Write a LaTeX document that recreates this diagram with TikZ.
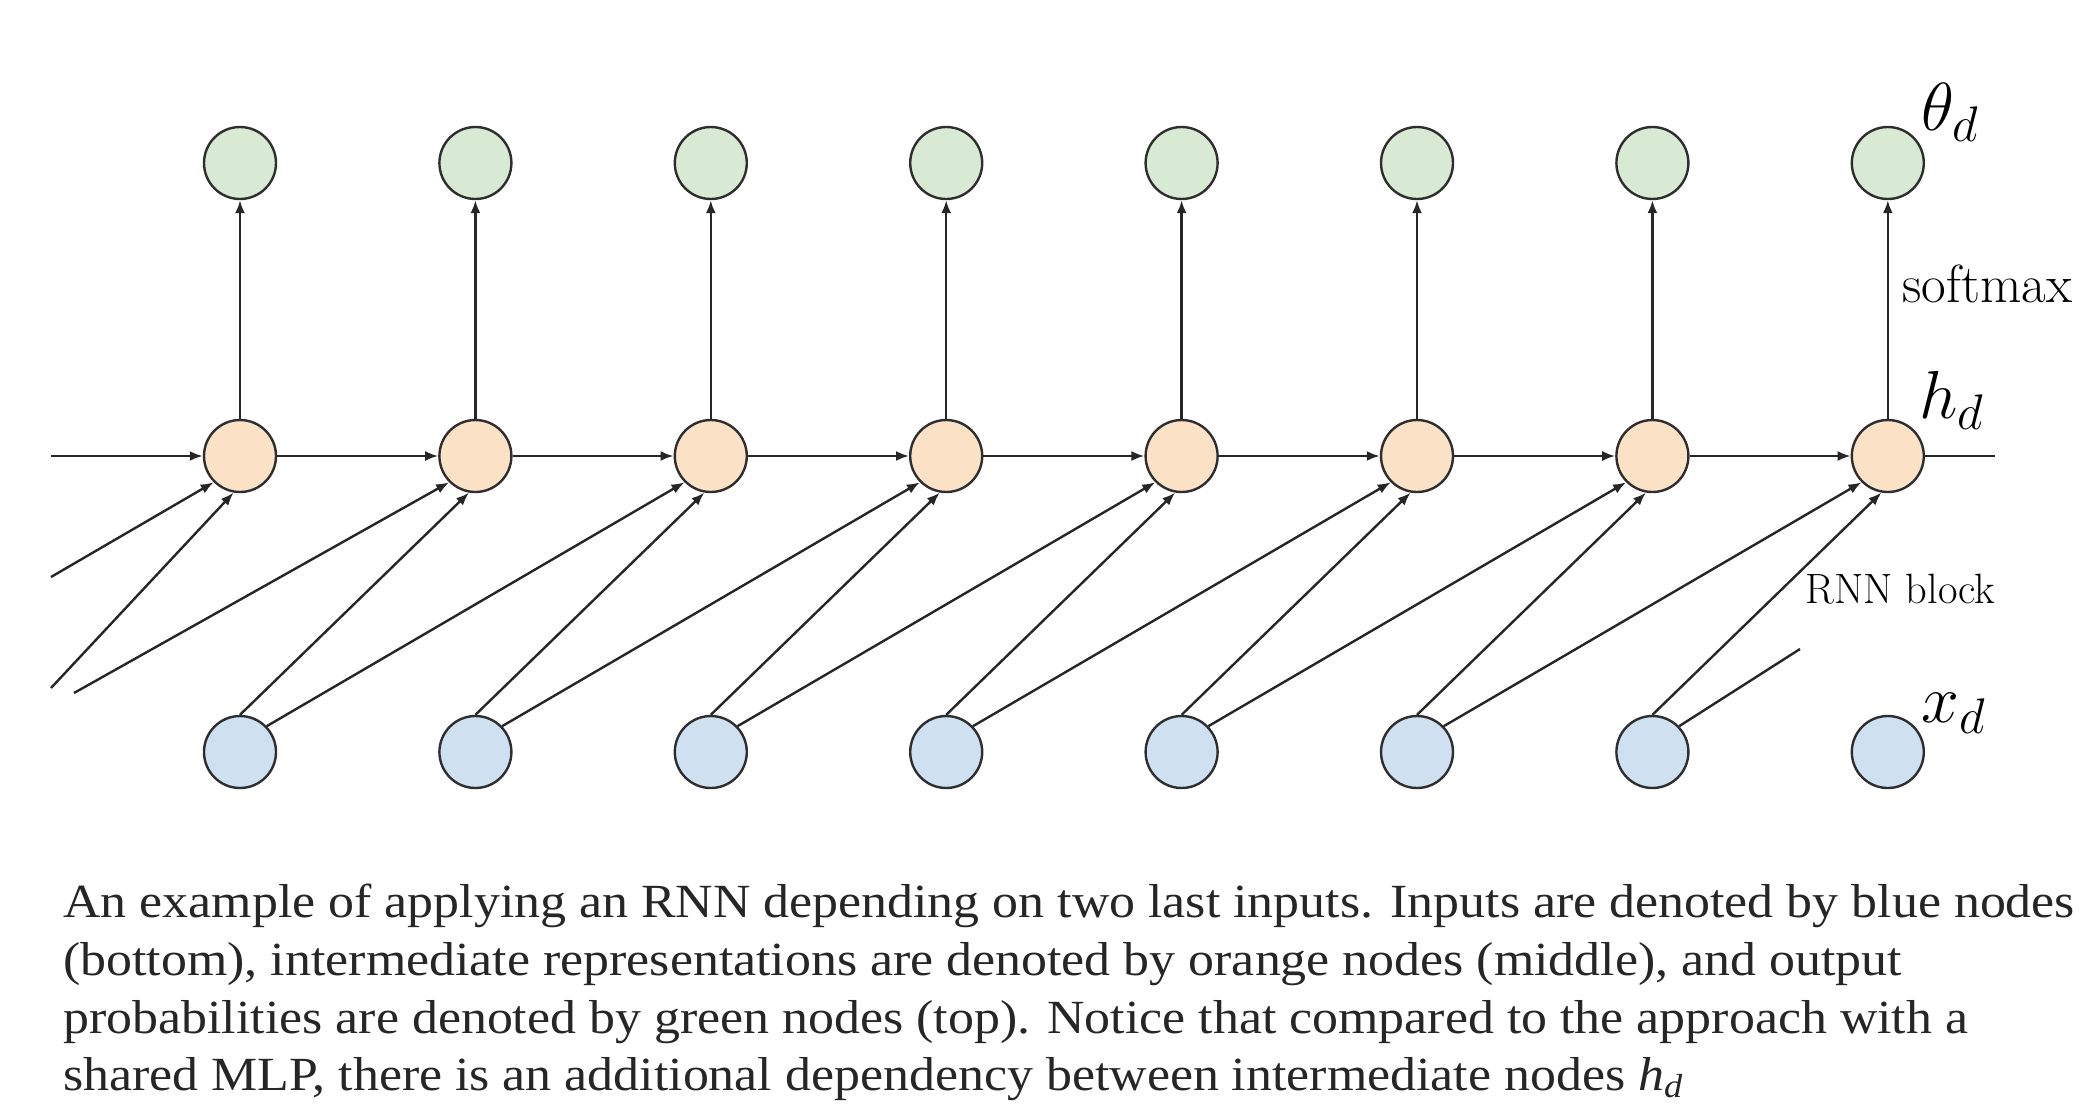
\RequirePackage{fix-cm}
\documentclass[tikz,border=0pt]{standalone}
\usepackage{fontspec}
\usetikzlibrary{arrows.meta}
\newfontfamily\capfont[FakeStretch=1.09]{Liberation Serif}
\DeclareMathSizes{34}{34}{25}{20}
\definecolor{gfill}{HTML}{D8EAD3}
\definecolor{ofill}{HTML}{FBE2C6}
\definecolor{bfill}{HTML}{CFE0F1}
\definecolor{edge}{HTML}{2E2E2E}
\definecolor{captxt}{HTML}{262626}
\begin{document}
\begin{tikzpicture}[x=0.5pt,y=-0.5pt,
  unit/.style={circle,draw=edge,line width=1.2pt,minimum size=36pt,inner sep=0pt},
  gnode/.style={unit,fill=gfill},
  onode/.style={unit,fill=ofill},
  bnode/.style={unit,fill=bfill},
  conn/.style={line width=1.2pt,draw=black!85,-{Latex[length=6.5pt,width=5pt]}},
  plain/.style={line width=1.2pt,draw=black!85},
  mlabel/.style={anchor=base west,inner sep=0pt,font=\fontsize{34}{40}\selectfont},
  capline/.style={anchor=base west,inner sep=0pt,text=captxt,font=\capfont\fontsize{23.8}{28}\selectfont}]
\useasboundingbox (0,0) rectangle (2092,1114);
\foreach \i in {1,...,8}{
  \pgfmathsetmacro{\xx}{240+235.4*(\i-1)}
  \node[gnode] (g\i) at (\xx,163) {};
  \node[onode] (o\i) at (\xx,456) {};
  \node[bnode] (b\i) at (\xx,752) {};
}
% vertical arrows
\foreach \i in {1,...,8}{ \draw[conn] (o\i) -- (g\i); }
% horizontal arrows
\coordinate (hin) at (51,456);
\coordinate (hout) at (1995,456);
\draw[conn] (hin) -- (o1.west);
\foreach \i [evaluate=\i as \j using int(\i+1)] in {1,...,7}{ \draw[conn] (o\i.east) -- (o\j.west); }
\draw[plain] (o8.east) -- (hout);
% incoming from outside
\coordinate (s1) at (51,577);
\coordinate (s2) at (51,688);
\coordinate (s3) at (74,693);
\draw[conn] (s1) -- (o1.-135);
\draw[conn] (s2) -- (o1.-100);
\draw[conn] (s3) -- (o2.-135);
% steep: blue i -> orange i+1
\foreach \i [evaluate=\i as \j using int(\i+1)] in {1,...,7}{ \draw[conn] (b\i.north) -- (o\j.-100); }
% shallow: blue i -> orange i+2
\foreach \i [evaluate=\i as \j using int(\i+2)] in {1,...,6}{ \draw[conn] (b\i.44) -- (o\j.-135); }
\coordinate (fend) at (1800,649);
\draw[plain] (b7.44) -- (fend);
% labels
\node[mlabel] (lt) at (1921,130) {$\theta_d$};
\node[mlabel] (lh) at (1919,418) {$h_d$};
\node[mlabel] (lx) at (1921,722) {$x_d$};
\node[anchor=base west,inner sep=0pt,font=\fontsize{26.8}{32}\selectfont] (ls) at (1902,302) {softmax};
\node[anchor=base west,inner sep=0pt,font=\fontsize{21.2}{25}\selectfont] (lr) at (1805,603) {RNN block};
% caption
\node[capline] (c1) at (63,917) {An example of applying an RNN depending on two last inputs. Inputs are denoted by blue nodes};
\node[capline] (c2) at (63,975) {(bottom), intermediate representations are denoted by orange nodes (middle), and output};
\node[capline] (c3) at (63,1033) {probabilities are denoted by green nodes (top). Notice that compared to the approach with a};
\node[capline] (c4) at (63,1090) {shared MLP, there is an additional dependency between intermediate nodes \textit{h}\textsubscript{\itshape d}};
\end{tikzpicture}
\end{document}
